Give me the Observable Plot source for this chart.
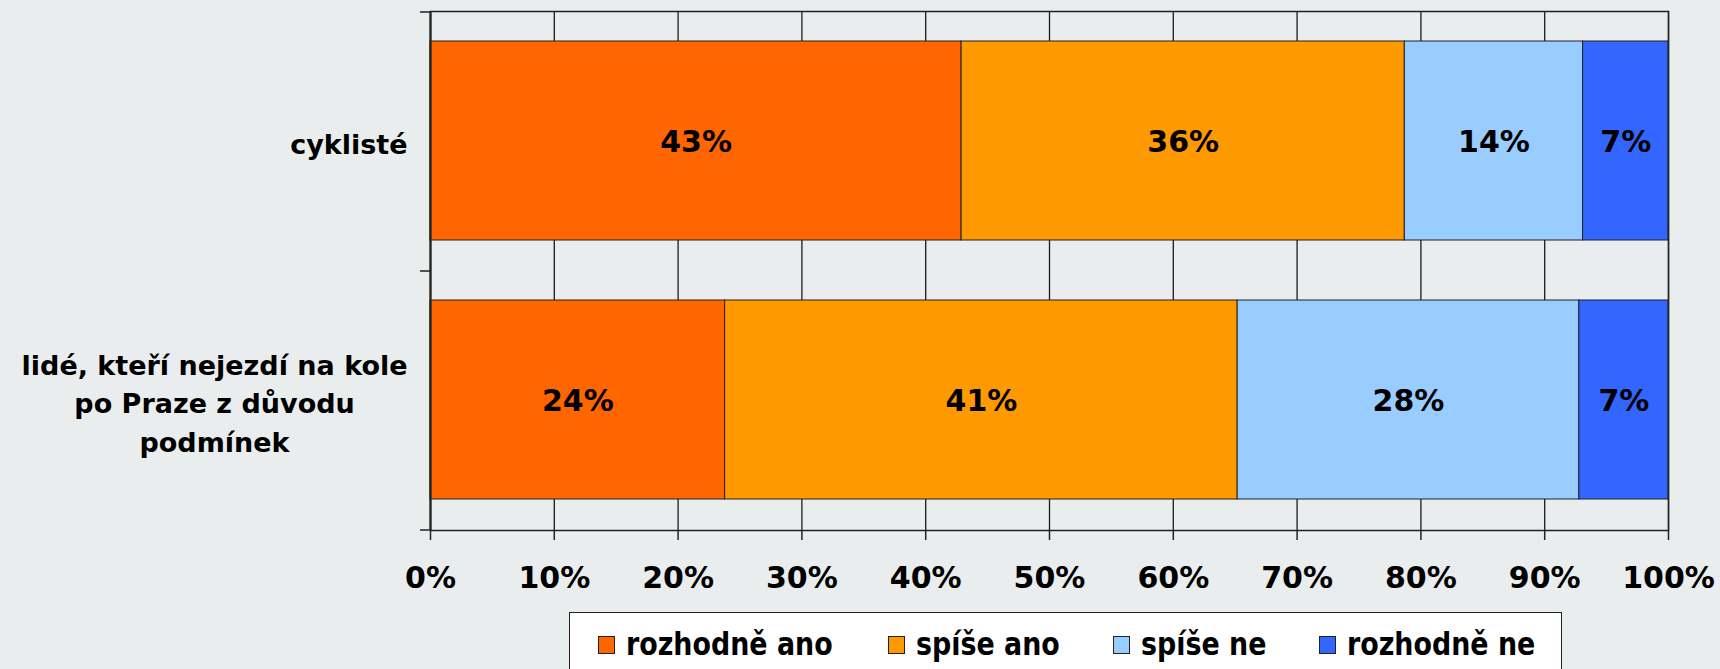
<!DOCTYPE html>
<html>
<head>
<meta charset="utf-8">
<script src="https://cdn.jsdelivr.net/npm/d3@7"></script>
<script src="https://cdn.jsdelivr.net/npm/@observablehq/plot@0.6"></script>
<style>
  html, body { margin: 0; padding: 0; background: #e9eded; }
  body { width: 1720px; height: 669px; overflow: hidden; position: relative; font-family: "DejaVu Sans", sans-serif; }
  #chart svg { display: block; }
  #legend { position: absolute; left: 569px; top: 612px; width: 993px; height: 90px; background: #fff; border: 1.5px solid #222; box-sizing: border-box; }
  .item { position: absolute; top: 0; height: 60px; }
  .sw { position: absolute; left: 0; top: 22.5px; width: 17px; height: 18px; border: 1px solid #222; box-sizing: border-box; }
  .lb { position: absolute; left: 28px; top: 14.5px; font-weight: bold; font-size: 32px; line-height: 32px; transform: scaleX(0.84); transform-origin: 0 0; white-space: nowrap; color: #000; }
</style>
</head>
<body>
<div id="chart"></div>
<div id="legend"></div>
<script>
// ---- data ----
const groups = ["cyklisté", "lidé, kteří nejezdí na kole\npo Praze z důvodu\npodmínek"];
const answers = ["rozhodně ano", "spíše ano", "spíše ne", "rozhodně ne"];
const colors = ["#ff6600", "#ff9900", "#99ccff", "#3366ff"];
const cyklisteValues = [42.9, 35.8, 14.4, 6.9];
const nejezdiValues = [23.8, 41.4, 27.6, 7.2];
const xTicks = [0, 10, 20, 30, 40, 50, 60, 70, 80, 90, 100];
const legendOffsets = [27.5, 317.5, 542.5, 748.5];

const seriesValues = [cyklisteValues, nejezdiValues];
const data = groups.flatMap((g, i) => answers.map((a, j) => ({group: g, answer: a, value: seriesValues[i][j]})));

// measure label blocks (lines centered within a right-aligned block)
const ctx = document.createElement("canvas").getContext("2d");
ctx.font = "bold 27px 'DejaVu Sans'";
const blockWidth = s => d3.max(s.split("\n"), l => ctx.measureText(l).width);

const gridStroke = "#1a1a1a";

function bandEdgeTicks(index, scales, values, dimensions) {
  const y = scales.y;
  const bw = typeof y.bandwidth === "function" ? y.bandwidth() : scales.scales.y.bandwidth;
  const edges = new Set();
  for (const g of groups) { edges.add(y(g)); edges.add(y(g) + bw); }
  const x0 = dimensions.marginLeft;
  const g = d3.create("svg:g");
  for (const e of edges) {
    g.append("line").attr("x1", x0 - 10).attr("x2", x0).attr("y1", e).attr("y2", e)
      .attr("stroke", "#222").attr("stroke-width", 1.5);
  }
  return g.node();
}

const plot = Plot.plot({
  width: 1720,
  height: 605,
  marginLeft: 430,
  marginRight: 52,
  marginTop: 11,
  marginBottom: 75,
  style: {background: "transparent", fontFamily: "'DejaVu Sans', sans-serif"},
  x: {domain: [0, 100], axis: null, label: null},
  y: {domain: groups, padding: 0, axis: null, label: null},
  color: {domain: answers, range: colors},
  marks: [
    Plot.gridX({ticks: xTicks, stroke: gridStroke, strokeOpacity: 1, strokeWidth: 1.3}),
    Plot.barX(data, Plot.stackX({x: "value", y: "group", fill: "answer", stroke: "#222", strokeWidth: 1, insetTop: 29, insetBottom: 31})),
    Plot.text(data, Plot.stackX({x: "value", y: "group", z: "answer", text: d => Math.round(d.value) + "%", fontSize: 30, fontWeight: "bold", fill: "#000"})),
    Plot.frame({stroke: "#222", strokeWidth: 1.5}),
    Plot.ruleX([0], {stroke: "#222", strokeWidth: 2}),
    Plot.axisX({ticks: xTicks, tickFormat: d => d + "%", tickSize: 10, tickPadding: 26, fontSize: 30, fontWeight: "bold", stroke: "#222", strokeWidth: 1.5, fill: "#000", label: null}),
    bandEdgeTicks,
    ...groups.map(g => Plot.text([g], {
      y: d => d, text: d => d, frameAnchor: "left", textAnchor: "middle",
      dx: -(23 + blockWidth(g) / 2), fontSize: 27, fontWeight: "bold", lineHeight: 1.43, fill: "#000"
    }))
  ]
});
document.getElementById("chart").appendChild(plot);

// legend
const legend = d3.select("#legend");
answers.forEach((a, i) => {
  const item = legend.append("div").attr("class", "item").style("left", legendOffsets[i] + "px");
  item.append("div").attr("class", "sw").style("background", colors[i]);
  item.append("div").attr("class", "lb").text(a);
});
</script>
</body>
</html>
